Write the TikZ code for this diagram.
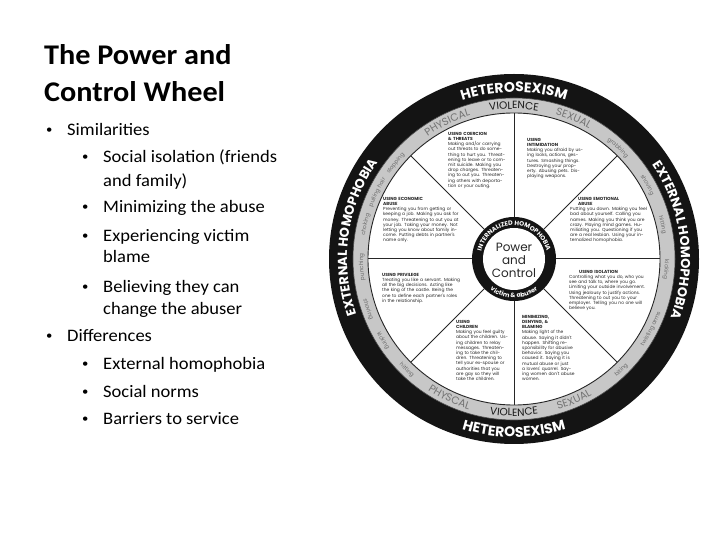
\documentclass[tikz,border=0pt]{standalone}
\usepackage{fontspec}
\setmainfont{Carlito}[FakeStretch=1.06]
\newfontfamily\wf{Poppins}
\usetikzlibrary{decorations.text}
% text along a clockwise arc (letters point outward)
\newcommand\cwtext[5]{%
  \path[decorate,decoration={text along path,text align=center,text={|#4|#5}}]
    (#1+#3:#2) arc[start angle=#1+#3, end angle=#1-#3, radius=#2];}
% text along a counter-clockwise arc (letters point inward)
\newcommand\ccwtext[5]{%
  \path[decorate,decoration={text along path,text align=center,text={|#4|#5}}]
    (#1-#3:#2) arc[start angle=#1-#3, end angle=#1+#3, radius=#2];}
\newcommand\blackfmt{\wf\bfseries\fontsize{14}{14}\selectfont\color{white}}
\newcommand\sidefmt{\wf\bfseries\fontsize{13}{13}\selectfont\color{white}}
\newcommand\grayfmt{\wf\fontsize{10.5}{10.5}\selectfont\color{black!55}}
\newcommand\violfmt{\wf\fontsize{10.5}{10.5}\selectfont\color{black!90}}
\newcommand\smallfmt{\wf\fontsize{5.6}{5.6}\selectfont\color{black!58}}
\newcommand\hubfmt{\wf\bfseries\fontsize{6.3}{6.3}\selectfont\color{white}}
\begin{document}
\begin{tikzpicture}[x=1pt,y=1pt,
  ttl/.style={anchor=base west,inner sep=0,font=\bfseries\fontsize{28.5}{28.5}\selectfont},
  bl/.style={anchor=base west,inner sep=0,font=\fontsize{17.5}{17.5}\selectfont},
  dot/.style={anchor=base west,inner sep=0,font=\fontsize{12}{12}\selectfont},
  seg/.style={anchor=north west,inner sep=0,align=left,
    font=\wf\fontsize{4.4}{5.2}\selectfont,text=black!85},
]
\useasboundingbox (0,0) rectangle (728,546);
\fill[white] (0,0) rectangle (728,546);

% ---------- slide text ----------
\node[ttl] (t1) at (44,481) {The Power and};
\node[ttl] (t2) at (44,444) {Control Wheel};

\node[dot] (d1) at (46,412) {\textbullet};  \node[bl] (s1) at (67,410) {Similarities};
\node[dot] (d2) at (82,385) {\textbullet};  \node[bl] (s2) at (103,383) {Social isolation (friends};
\node[bl] (s2b) at (103,359) {and family)};
\node[dot] (d3) at (82,335) {\textbullet};  \node[bl] (s3) at (103,333) {Minimizing the abuse};
\node[dot] (d4) at (82,306) {\textbullet};  \node[bl] (s4) at (103,304) {Experiencing victim};
\node[bl] (s4b) at (103,283) {blame};
\node[dot] (d5) at (82,255) {\textbullet};  \node[bl] (s5) at (103,253) {Believing they can};
\node[bl] (s5b) at (103,231) {change the abuser};
\node[dot] (d6) at (46,206) {\textbullet};  \node[bl] (s6) at (67,204) {Differences};
\node[dot] (d7) at (82,178) {\textbullet};  \node[bl] (s7) at (103,176) {External homophobia};
\node[dot] (d8) at (82,150) {\textbullet};  \node[bl] (s8) at (103,148) {Social norms};
\node[dot] (d9) at (82,123) {\textbullet};  \node[bl] (s9) at (103,121) {Barriers to service};

% ---------- wheel ----------
\begin{scope}[shift={(514,287)}]
  \fill[black!92] (0,0) circle (185);
  \fill[black!22] (0,0) circle (161);
  \draw[black!70,line width=0.6] (0,0) circle (161);
  \fill[white] (0,0) circle (146);
  \draw[black!85,line width=0.9] (0,0) circle (146);
  \foreach \a in {0,45,...,315} \draw[black!85,line width=1] (\a:42) -- (\a:146);
  \fill[black!92] (0,0) circle (42);
  \fill[white] (0,0) circle (31);

  % outer black ring
  \cwtext{90}{167}{40}{\blackfmt}{HETEROSEXISM}
  \ccwtext{270}{178}{40}{\blackfmt}{HETEROSEXISM}
  \cwtext{172}{167}{45}{\sidefmt}{EXTERNAL HOMOPHOBIA}
  \cwtext{7}{167}{45}{\sidefmt}{EXTERNAL HOMOPHOBIA}

  % gray ring
  \cwtext{116}{150}{14}{\grayfmt}{PHYSICAL}
  \cwtext{90}{150}{14}{\violfmt}{VIOLENCE}
  \cwtext{67}{150}{13}{\grayfmt}{SEXUAL}
  \ccwtext{245}{157}{14}{\grayfmt}{PHYSCAL}
  \ccwtext{270}{157}{14}{\violfmt}{VIOLENCE}
  \ccwtext{293}{157}{13}{\grayfmt}{SEXUAL}

  \cwtext{141}{151}{6}{\smallfmt}{slapping}
  \cwtext{154}{151}{6}{\smallfmt}{pulling hair}
  \cwtext{167}{151}{6}{\smallfmt}{choking}
  \cwtext{183}{151}{6}{\smallfmt}{punching}
  \ccwtext{199}{156}{6}{\smallfmt}{shoving}
  \ccwtext{212}{156}{6}{\smallfmt}{kicking}
  \ccwtext{226}{156}{6}{\smallfmt}{hitting}
  \cwtext{47}{151}{6}{\smallfmt}{grabbing}
  \cwtext{29}{151}{6}{\smallfmt}{shoving}
  \cwtext{13}{151}{6}{\smallfmt}{hitting}
  \cwtext{-4}{151}{6}{\smallfmt}{kicking}
  \ccwtext{-27}{156}{8}{\smallfmt}{twisting arms}
  \ccwtext{-46}{156}{5}{\smallfmt}{biting}

  % hub
  \cwtext{90}{33.5}{112}{\hubfmt}{INTERNALIZED HOMOPHOBIA}
  \ccwtext{270}{39}{55}{\hubfmt}{victim {\&} abuser}
  \node[font=\wf\fontsize{12}{13}\selectfont,align=center,text=black!85,inner sep=0]
    (pc) at (0,-1) {Power\\and\\Control};
\end{scope}

% ---------- segment texts ----------
\node[seg,text width=58pt] (coer) at (448,414) {\textbf{USING COERCION\\\& THREATS}\\Making and/or carrying out threats to do something to hurt you. Threatening to leave or to commit suicide. Making you drop charges. Threatening to out you. Threatening others with deportation or your outing.};
\node[seg,text width=56pt] (intim) at (527,408) {\textbf{USING\\INTIMIDATION}\\Making you afraid by using looks, actions, gestures. Smashing things. Destroying your property. Abusing pets. Displaying weapons.};
\node[seg,text width=78pt] (emot) at (570,349) {\hspace*{8pt}\textbf{USING EMOTIONAL}\\\hspace*{8pt}\textbf{ABUSE}\\Putting you down. Making you feel bad about yourself. Calling you names. Making you think you are crazy. Playing mind games. Humiliating you. Questioning if you are a real lesbian. Using your internalized homophobia.};
\node[seg,text width=78pt] (isol) at (569,276) {\hspace*{10pt}\textbf{USING ISOLATION}\\Controlling what you do, who you see and talk to, where you go. Limiting your outside involvement. Using jealousy to justify actions. Threatening to out you to your employer. Telling you no one will believe you.};
\node[seg,text width=55pt] (mini) at (522,231) {\textbf{MINIMIZING,\\DENYING, \&\\BLAMING}\\Making light of the abuse. Saying it didn't happen. Shifting responsibility for abusive behavior. Saying you caused it. Saying it is mutual abuse or just a lovers' quarrel. Saying women don't abuse women.};
\node[seg,text width=52pt] (chil) at (456,226) {\textbf{USING\\CHILDREN}\\Making you feel guilty about the children. Using children to relay messages. Threatening to take the children. Threatening to tell your ex-spouse or authorities that you are gay so they will take the children.};
\node[seg,text width=78pt] (priv) at (382,273) {\textbf{USING PRIVILEGE}\\Treating you like a servant. Making all the big decisions. Acting like the king of the castle. Being the one to define each partner's roles in the relationship.};
\node[seg,text width=78pt] (econ) at (383,349) {\textbf{USING ECONOMIC\\ABUSE}\\Preventing you from getting or keeping a job. Making you ask for money. Threatening to out you at your job. Taking your money. Not letting you know about family income. Putting debts in partner's name only.};
\end{tikzpicture}
\end{document}
